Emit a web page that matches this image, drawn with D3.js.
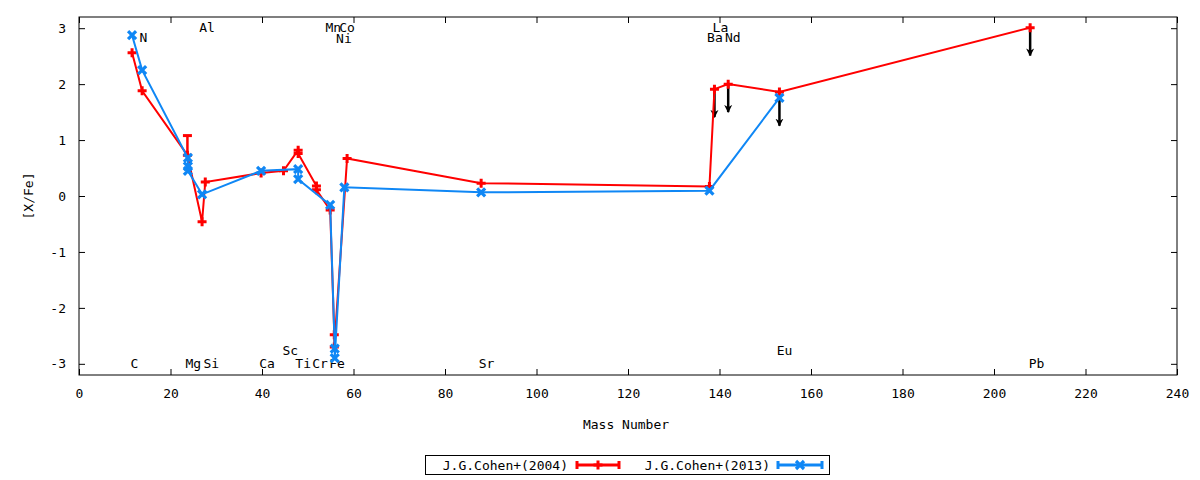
<!DOCTYPE html>
<html>
<head>
<meta charset="utf-8">
<script src="https://cdn.jsdelivr.net/npm/d3@7"></script>
<style>
  body { margin: 0; background: #fff; }
  text { font-family: "DejaVu Sans Mono", monospace; font-size: 13px; fill: #000; }
</style>
</head>
<body>
<svg id="chart" width="1200" height="480"></svg>
<script>
// element labels (positions in mass units / [X/Fe])
var elemNames = ["C", "N", "Mg", "Al", "Si", "Ca", "Sc", "Ti", "Cr", "Mn", "Fe", "Co", "Ni", "Sr", "Ba", "La", "Nd", "Eu", "Pb"];
var labelMass = [12.1, 14.1, 25.0, 28.0, 28.9, 41.1, 46.2, 49.0, 52.7, 55.6, 56.4, 58.6, 57.9, 89.1, 139.0, 140.2, 142.9, 154.2, 209.3];
var labelVal  = [-3, 2.83, -3, 3.01, -3, -3, -2.76, -3, -3, 3.01, -3, 3.01, 2.82, -3, 2.83, 3.02, 2.83, -2.76, -3];

// J.G.Cohen+(2004)
var redMass = [11.6, 13.8, 23.7, 26.9, 27.6, 39.8, 44.7, 47.9, 47.9, 51.9, 51.9, 54.9, 55.8, 55.8, 58.6, 87.9, 137.8, 138.9, 141.9, 153.1, 207.9];
var redVal  = [2.56, 1.88, 0.73, -0.46, 0.25, 0.41, 0.45, 0.82, 0.76, 0.18, 0.11, -0.25, -2.48, -2.70, 0.67, 0.23, 0.17, 1.91, 2.00, 1.86, 3.01];
var redErrHigh = [0, 0, 0.35, 0, 0, 0, 0, 0, 0, 0, 0, 0, 0, 0, 0, 0, 0, 0, 0, 0, 0];

// J.G.Cohen+(2013)
var blueMass = [11.6, 13.8, 23.8, 23.8, 23.8, 26.9, 39.8, 47.9, 47.9, 54.9, 55.9, 55.9, 58.0, 87.9, 137.8, 153.1];
var blueVal  = [2.875, 2.25, 0.68, 0.53, 0.45, 0.03, 0.45, 0.48, 0.30, -0.16, -2.73, -2.90, 0.155, 0.065, 0.095, 1.755];

// upper limits (arrows pointing down)
var limitMass = [138.9, 141.9, 153.1, 207.9];
var limitVal  = [1.91, 2.00, 1.755, 3.01];
var limitLen  = 0.5;

var xTicks = d3.range(0, 241, 20);
var yTicks = [-3, -2, -1, 0, 1, 2, 3];

var redColor = "#ff0000", blueColor = "#0f87f5";

var svg = d3.select("#chart");
var plotL = 79, plotT = 17, plotR = 1177, plotB = 375;

var x = d3.scaleLinear().domain([0, 240]).range([plotL, plotR]);
var y = d3.scaleLinear().domain([-3.2, 3.2]).range([plotB, plotT]);

// axes, ticks inward on all sides
svg.append("g")
    .attr("transform", "translate(0," + plotB + ")")
    .call(d3.axisBottom(x).tickValues(xTicks).tickSizeInner(-6).tickSizeOuter(0).tickPadding(14)
        .tickFormat(function(d){ return String(d); }));
svg.append("g")
    .attr("transform", "translate(0," + plotT + ")")
    .call(d3.axisTop(x).tickValues(xTicks).tickSizeInner(-6).tickSizeOuter(0).tickFormat(""));
svg.append("g")
    .attr("transform", "translate(" + plotL + ",0)")
    .call(d3.axisLeft(y).tickValues(yTicks).tickSizeInner(-6).tickSizeOuter(0).tickPadding(13)
        .tickFormat(function(d){ return String(d); }));
svg.append("g")
    .attr("transform", "translate(" + plotR + ",0)")
    .call(d3.axisRight(y).tickValues(yTicks).tickSizeInner(-6).tickSizeOuter(0).tickFormat(""));

svg.selectAll(".domain").remove();
svg.selectAll(".tick line").attr("stroke", "#000");
svg.selectAll(".tick text").style("font-family", "DejaVu Sans Mono").style("font-size", "13px");

svg.append("rect")
    .attr("x", plotL).attr("y", plotT)
    .attr("width", plotR - plotL).attr("height", plotB - plotT)
    .attr("fill", "none").attr("stroke", "#000").attr("stroke-width", 1);

// axis titles
svg.append("text")
    .attr("transform", "translate(33," + y(0) + ") rotate(-90)")
    .attr("text-anchor", "middle")
    .text("[X/Fe]");
svg.append("text")
    .attr("x", 626).attr("y", 429)
    .attr("text-anchor", "middle")
    .text("Mass Number");

// element labels
svg.selectAll(".elem")
    .data(elemNames)
    .enter().append("text")
    .attr("class", "elem")
    .attr("x", function(d, i){ return x(labelMass[i]); })
    .attr("y", function(d, i){ return y(labelVal[i]); })
    .attr("dy", "0.36em")
    .attr("text-anchor", "middle")
    .text(function(d){ return d; });

// arrowhead
svg.append("defs").append("marker")
    .attr("id", "head")
    .attr("viewBox", "0 0 10 10")
    .attr("refX", 9).attr("refY", 5)
    .attr("markerWidth", 3.2).attr("markerHeight", 3.6)
    .attr("markerUnits", "strokeWidth")
    .attr("orient", "auto")
    .append("path")
    .attr("d", "M0,0 L10,5 L0,10 L3,5 Z")
    .attr("fill", "#000");

svg.selectAll(".limit")
    .data(limitMass)
    .enter().append("line")
    .attr("class", "limit")
    .attr("x1", function(d){ return x(d); })
    .attr("x2", function(d){ return x(d); })
    .attr("y1", function(d, i){ return y(limitVal[i]); })
    .attr("y2", function(d, i){ return y(limitVal[i] - limitLen); })
    .attr("stroke", "#000")
    .attr("stroke-width", 2.5)
    .attr("marker-end", "url(#head)");

var line = d3.line()
    .x(function(d){ return x(d[0]); })
    .y(function(d){ return y(d[1]); });

function plus(g, color) {
    g.append("path")
        .attr("d", "M-4.5,0H4.5M0,-4.5V4.5")
        .attr("stroke", color).attr("stroke-width", 3).attr("fill", "none");
}
function cross(g, color) {
    g.append("path")
        .attr("d", "M-4,-4L4,4M-4,4L4,-4")
        .attr("stroke", color).attr("stroke-width", 3.2).attr("fill", "none");
}

function drawSeries(mass, vals, color, marker, errHigh) {
    var pts = mass.map(function(m, i){ return [m, vals[i]]; });
    svg.append("path")
        .datum(pts)
        .attr("d", line)
        .attr("fill", "none")
        .attr("stroke", color)
        .attr("stroke-width", 2)
        .attr("stroke-linejoin", "miter");
    if (errHigh) {
        var eg = svg.append("g");
        pts.forEach(function(p, i){
            if (!errHigh[i]) return;
            eg.append("line")
                .attr("x1", x(p[0])).attr("x2", x(p[0]))
                .attr("y1", y(p[1])).attr("y2", y(p[1] + errHigh[i]))
                .attr("stroke", color).attr("stroke-width", 2.5);
            eg.append("line")
                .attr("x1", x(p[0]) - 4.5).attr("x2", x(p[0]) + 4.5)
                .attr("y1", y(p[1] + errHigh[i])).attr("y2", y(p[1] + errHigh[i]))
                .attr("stroke", color).attr("stroke-width", 3);
        });
    }
    svg.selectAll(null)
        .data(pts)
        .enter().append("g")
        .attr("transform", function(d){ return "translate(" + x(d[0]) + "," + y(d[1]) + ")"; })
        .each(function(){ marker(d3.select(this), color); });
}

drawSeries(redMass, redVal, redColor, plus, redErrHigh);
drawSeries(blueMass, blueVal, blueColor, cross, null);

// legend
var legend = svg.append("g");
legend.append("rect")
    .attr("x", 425.5).attr("y", 455.5)
    .attr("width", 404).attr("height", 19)
    .attr("fill", "#fff").attr("stroke", "#000").attr("stroke-width", 1);

var legendItems = [
    {name: "J.G.Cohen+(2004)", color: redColor, marker: plus, textEnd: 568, x0: 577, x1: 619},
    {name: "J.G.Cohen+(2013)", color: blueColor, marker: cross, textEnd: 770, x0: 778, x1: 822}
];
legendItems.forEach(function(d){
    legend.append("text")
        .attr("x", d.textEnd).attr("y", 465)
        .attr("dy", "0.36em")
        .attr("text-anchor", "end")
        .text(d.name);
    legend.append("line")
        .attr("x1", d.x0).attr("x2", d.x1).attr("y1", 465).attr("y2", 465)
        .attr("stroke", d.color).attr("stroke-width", 3);
    [d.x0, d.x1].forEach(function(cx){
        legend.append("line")
            .attr("x1", cx).attr("x2", cx).attr("y1", 461).attr("y2", 469)
            .attr("stroke", d.color).attr("stroke-width", 3);
    });
    var mg = legend.append("g").attr("transform", "translate(" + ((d.x0 + d.x1) / 2) + ",465)");
    d.marker(mg, d.color);
});
</script>
</body>
</html>
